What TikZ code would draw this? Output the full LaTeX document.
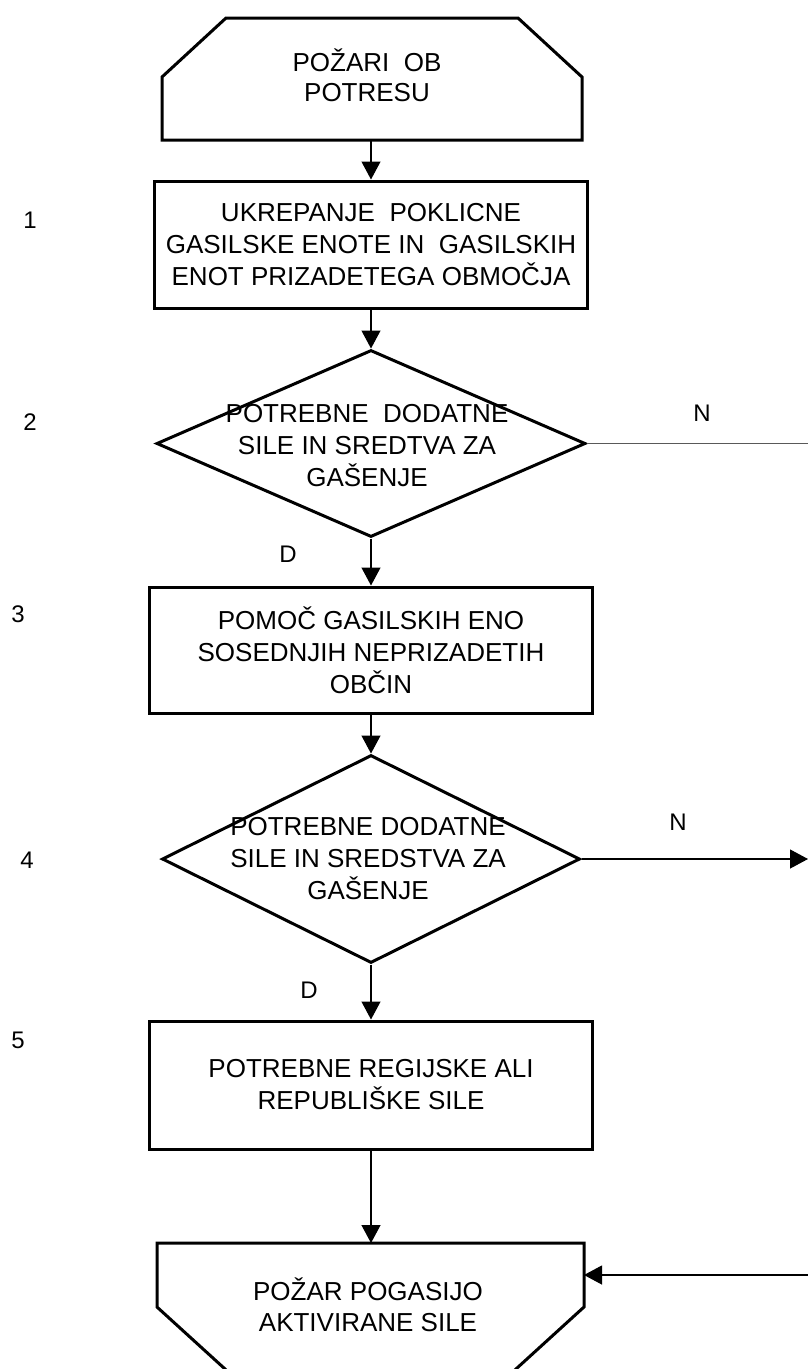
\documentclass[tikz,border=0pt]{standalone}
\usepackage{fontspec}
\setmainfont{Liberation Sans}
\usetikzlibrary{arrows.meta,shapes.geometric}
\begin{document}
\begin{tikzpicture}[x=1pt,y=-1pt,
  shp/.style={draw=black,line width=3pt,line join=miter},
  conn/.style={draw=black,line width=1.2pt},
  arr/.style={conn,-{Triangle[length=18pt,width=19pt]}},
  txt/.style={align=center,font=\fontsize{26}{32}\selectfont,inner sep=0pt},
  lbl/.style={font=\fontsize{24}{28}\selectfont,inner sep=0pt},
  boxnode/.style={shp,rectangle,inner sep=0pt,align=center,font=\fontsize{26}{32}\selectfont},
  dia/.style={shp,diamond,inner sep=0pt}
]
\clip (0,0) rectangle (808,1369);
\fill[white] (0,0) rectangle (808,1369);

% start shape
\draw[shp] (162,140) -- (162,77) -- (226,18) -- (518,18) -- (582,77) -- (582,140) -- cycle;
\coordinate (starts) at (371,140);
\node[txt,anchor=base,font=\fontsize{26}{30}\selectfont] (start) at (367,101) {POŽARI\ \ OB\\POTRESU};

% boxes
\node[boxnode,minimum width=433,minimum height=127] (b1) at (371,244.5) {UKREPANJE\ \ POKLICNE\\GASILSKE ENOTE IN\ \ GASILSKIH\\ENOT PRIZADETEGA OBMOČJA};
\node[boxnode,minimum width=443,minimum height=126] (b3) at (371,650) {POMOČ GASILSKIH ENO\\SOSEDNJIH NEPRIZADETIH\\OBČIN};
\node[boxnode,minimum width=443,minimum height=128] (b5) at (371,1085) {POTREBNE REGIJSKE ALI\\REPUBLIŠKE SILE};

% diamonds
\node[dia,minimum width=429,minimum height=187] (d1) at (371,443.5) {};
\node[txt,anchor=base] (d1t) at (367,486) {POTREBNE\ \ DODATNE\\SILE IN SREDTVA ZA\\GAŠENJE};
\node[dia,minimum width=418,minimum height=208] (d2) at (371,859) {};
\node[txt,anchor=base] (d2t) at (368,899) {POTREBNE DODATNE\\SILE IN SREDSTVA ZA\\GAŠENJE};

% end shape
\draw[shp] (157,1307) -- (157,1243) -- (584,1243) -- (584,1307) -- (460,1420) -- (281,1420) -- cycle;
\coordinate (endn) at (371,1243);
\coordinate (ende) at (584,1275);
\node[txt,anchor=base,font=\fontsize{26}{31}\selectfont] (endt) at (368,1331) {POŽAR POGASIJO\\AKTIVIRANE SILE};

% free ends
\coordinate (n1end) at (808,443.5);
\coordinate (n2end) at (808,859);
\coordinate (rin) at (808,1275);

% connectors
\draw[arr] (starts) -- (b1.north);
\draw[arr] (b1.south) -- (d1.north);
\draw[conn,draw=black!65,line width=1.5pt] (d1.east) -- (n1end);
\draw[arr] (d1.south) -- (b3.north);
\draw[arr] (b3.south) -- (d2.north);
\draw[arr] (d2.east) -- (n2end);
\draw[arr] (d2.south) -- (b5.north);
\draw[arr] (b5.south) -- (endn);
\draw[arr] (rin) -- (ende);

% labels
\node[lbl] (ln1) at (702,413) {N};
\node[lbl] (ln2) at (678,822) {N};
\node[lbl] (ld1) at (288,554) {D};
\node[lbl] (ld2) at (309,990) {D};
\node[lbl] (s1) at (30,220) {1};
\node[lbl] (s2) at (30,422) {2};
\node[lbl] (s3) at (18,614) {3};
\node[lbl] (s4) at (27,860) {4};
\node[lbl] (s5) at (18,1040) {5};
\end{tikzpicture}
\end{document}
